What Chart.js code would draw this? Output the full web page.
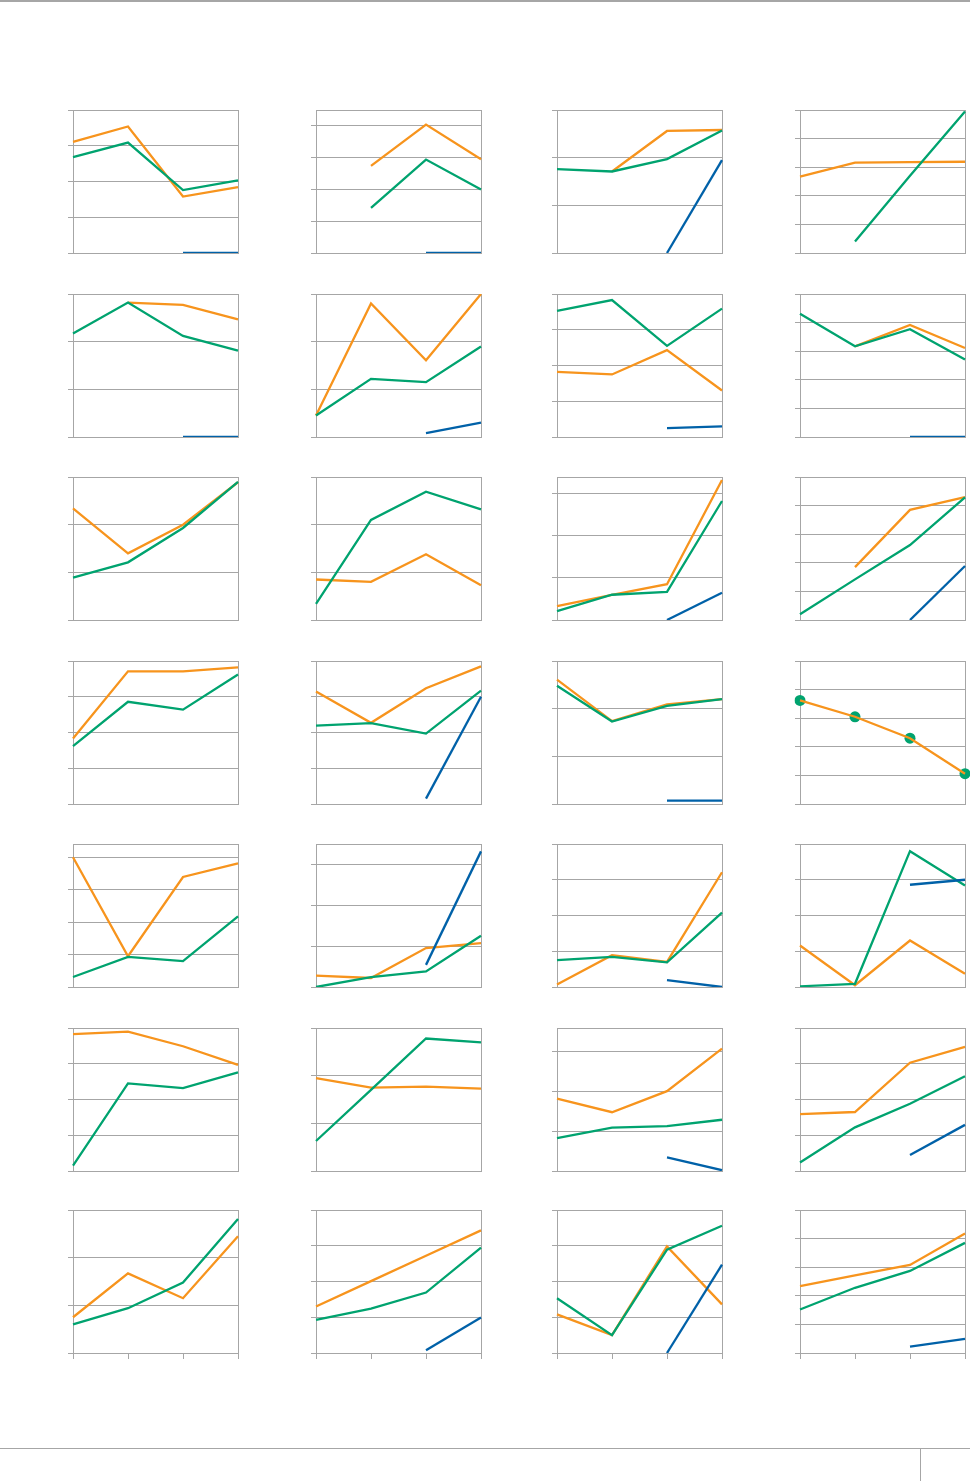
<!DOCTYPE html>
<html><head><meta charset="utf-8">
<script src="https://cdn.jsdelivr.net/npm/chart.js@4/dist/chart.umd.min.js"></script>
<style>
html,body{margin:0;padding:0;background:#fff;}
#page{position:relative;width:970px;height:1481px;overflow:hidden;background:#fff;}
.rule{position:absolute;background:#a6a6a6;}
.panel{position:absolute;}
</style></head><body><div id="page">
<div class="rule" style="left:0;top:0;width:970px;height:2px"></div>
<div class="rule" style="left:0;top:1448px;width:970px;height:1px"></div>
<div class="rule" style="left:920px;top:1448px;width:1px;height:33px"></div>
</div>
<script>
const categories = ['1', '2', '3', '4'];

// Axis top (in gridline units) for each of the 28 panels, row by row
const yMax = [4, 4.5, 3, 5, 3, 3, 4, 5, 3, 3, 3.4, 5, 4, 4, 3, 5, 4.42, 3.49, 4, 4, 4, 3, 3.6, 4, 3, 4, 4, 5];

const orangeSeries = [
  [3.11, 3.54, 1.58, 1.84], [null, 2.74, 4.04, 2.95], [null, 1.71, 2.56, 2.58], [2.67, 3.16, 3.18, 3.19],
  [null, 2.82, 2.77, 2.47], [0.45, 2.80, 1.61, 3.00], [1.82, 1.75, 2.43, 1.30], [null, 3.17, 3.92, 3.11],
  [2.34, 1.40, 2.00, 2.89], [0.85, 0.80, 1.38, 0.73], [0.33, 0.60, 0.85, 3.33], [null, 1.85, 3.85, 4.30],
  [1.83, 3.71, 3.71, 3.82], [3.15, 2.27, 3.24, 3.85], [2.61, 1.74, 2.09, 2.20], [3.62, 3.05, 2.30, 1.06],
  [4.01, 0.95, 3.40, 3.82], [0.28, 0.22, 0.95, 1.07], [0.07, 0.89, 0.70, 3.21], [1.16, 0.05, 1.30, 0.37],
  [3.83, 3.90, 3.49, 2.97], [1.95, 1.75, 1.77, 1.73], [1.82, 1.48, 2.01, 3.08], [1.59, 1.65, 3.03, 3.47],
  [0.75, 1.67, 1.15, 2.45], [1.30, 2.01, 2.72, 3.43], [1.08, 0.50, 2.98, 1.36], [2.34, 2.71, 3.08, 4.18]
];

const greenSeries = [
  [2.68, 3.09, 1.76, 2.03], [null, 1.42, 2.94, 2.00], [1.76, 1.71, 1.97, 2.57], [null, 0.40, 2.70, 4.95],
  [2.17, 2.82, 2.12, 1.81], [0.45, 1.22, 1.15, 1.90], [3.53, 3.83, 2.55, 3.59], [4.31, 3.17, 3.77, 2.71],
  [0.89, 1.21, 1.93, 2.90], [0.34, 2.10, 2.69, 2.32], [0.21, 0.60, 0.67, 2.83], [0.20, 1.42, 2.62, 4.29],
  [1.62, 2.86, 2.64, 3.62], [2.19, 2.26, 1.97, 3.17], [2.48, 1.73, 2.06, 2.20], [3.62, 3.05, 2.30, 1.06],
  [0.31, 0.93, 0.80, 2.18], [0.00, 0.24, 0.38, 1.25], [0.75, 0.84, 0.69, 2.08], [0.02, 0.09, 3.80, 2.84],
  [0.15, 2.45, 2.32, 2.76], [0.63, 1.70, 2.78, 2.70], [0.83, 1.09, 1.13, 1.29], [0.24, 1.22, 1.88, 2.65],
  [0.60, 0.94, 1.48, 2.81], [0.93, 1.24, 1.69, 2.95], [1.53, 0.50, 2.89, 3.56], [1.52, 2.28, 2.87, 3.85]
];

const blueSeries = [
  [null, null, 0, 0], [null, null, 0, 0], [null, null, 0, 1.95], [null, null, null, null],
  [null, null, 0, 0], [null, null, 0.08, 0.30], [null, null, 0.25, 0.30], [null, null, 0, 0],
  [null, null, null, null], [null, null, null, null], [null, null, 0, 0.65], [null, null, 0, 1.89],
  [null, null, null, null], [null, null, 0.15, 3.00], [null, null, 0.07, 0.07], [null, null, null, null],
  [null, null, null, null], [null, null, 0.54, 3.31], [null, null, 0.19, 0.00], [null, null, 2.86, 3.00],
  [null, null, null, null], [null, null, null, null], [null, null, 0.34, 0.02], [null, null, 0.45, 1.29],
  [null, null, null, null], [null, null, 0.08, 0.99], [null, null, 0, 2.47], [null, null, 0.22, 0.49]
];

// panels where the green series is shown as markers under the orange line
const markerPanels = [15];

const ORANGE = '#F7941D', GREEN = '#00A36F', BLUE = '#0061A8', GRID = '#A6A6A6';
const LINE_W = 2.3;
const colLeft = [73, 316, 557, 800];
const rowTop = [110, 293.5, 477, 660.5, 844, 1027.5, 1210];
const plotW = 165, plotH = 143;
const LEFT_PAD = 6, RIGHT_PAD = 1, TOP_PAD = 1, EXTRA_RIGHT = 7;

const page = document.getElementById('page');

for (let i = 0; i < 28; i++) {
  const row = Math.floor(i / 4), col = i % 4;
  const lastRow = row === 6;
  const bottomPad = lastRow ? 7 : 1;
  const w = plotW + LEFT_PAD + RIGHT_PAD + EXTRA_RIGHT, h = plotH + TOP_PAD + bottomPad;
  const div = document.createElement('div');
  div.className = 'panel';
  div.style.left = Math.round(colLeft[col] - LEFT_PAD) + 'px';
  div.style.top = Math.round(rowTop[row] - TOP_PAD) + 'px';
  div.style.width = w + 'px';
  div.style.height = h + 'px';
  const cv = document.createElement('canvas');
  cv.width = w; cv.height = h;
  cv.style.width = w + 'px'; cv.style.height = h + 'px';
  div.appendChild(cv);
  page.appendChild(div);

  const markers = markerPanels.includes(i);
  const datasets = [
    { data: blueSeries[i], borderColor: BLUE, borderWidth: LINE_W, pointRadius: 0, order: 0 },
    { data: greenSeries[i], borderColor: GREEN, backgroundColor: GREEN, borderWidth: LINE_W,
      pointRadius: markers ? 5.5 : 0, pointBorderWidth: 0, showLine: !markers, order: markers ? 2 : 1 },
    { data: orangeSeries[i], borderColor: ORANGE, borderWidth: LINE_W, pointRadius: 0, order: markers ? 0 : 2 }
  ].map(d => Object.assign({ tension: 0, spanGaps: false, fill: false }, d));

  new Chart(cv, {
    type: 'line',
    data: { labels: categories, datasets },
    options: {
      responsive: false,
      devicePixelRatio: 1,
      animation: false,
      events: [],
      layout: { padding: { left: 0, top: 0, bottom: 0, right: EXTRA_RIGHT }, autoPadding: false },
      plugins: { legend: { display: false }, tooltip: { enabled: false } },
      scales: {
        x: {
          type: 'category', position: 'bottom', offset: false,
          grid: { display: lastRow, drawOnChartArea: false, drawTicks: true, tickLength: 6, color: GRID, lineWidth: 1 },
          border: { display: true, color: GRID, width: 1 },
          ticks: { display: false },
          afterFit: s => { s.height = bottomPad; }
        },
        xTop: {
          type: 'category', position: 'top', offset: false,
          grid: { display: false },
          border: { display: true, color: GRID, width: 1 },
          ticks: { display: false },
          afterFit: s => { s.height = TOP_PAD; }
        },
        y: {
          type: 'linear', position: 'left', min: 0, max: yMax[i],
          ticks: { display: false, stepSize: 1, includeBounds: false },
          grid: { display: true, drawOnChartArea: true, drawTicks: true, tickLength: 5, color: GRID, lineWidth: 1 },
          border: { display: true, color: GRID, width: 1 },
          afterFit: s => { s.width = LEFT_PAD; }
        },
        yRight: {
          type: 'linear', position: 'right', min: 0, max: yMax[i],
          ticks: { display: false },
          grid: { display: false },
          border: { display: true, color: GRID, width: 1 },
          afterFit: s => { s.width = RIGHT_PAD; }
        }
      }
    }
  });
}
</script>
</body></html>
